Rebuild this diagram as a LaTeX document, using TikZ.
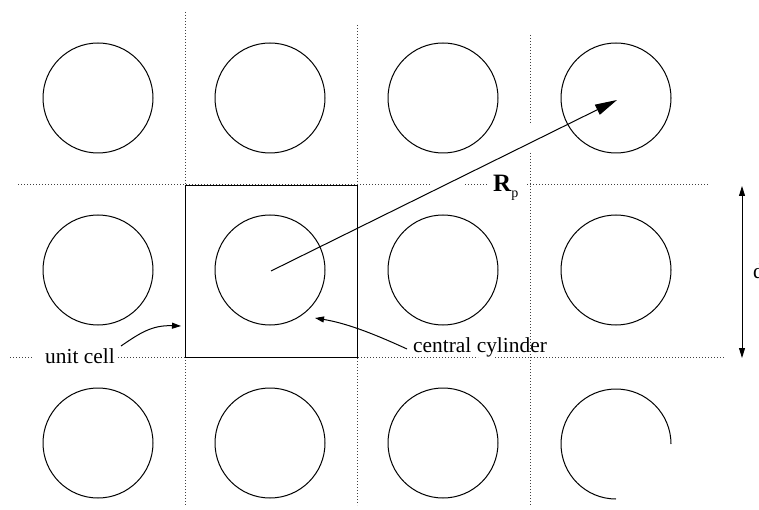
\documentclass[tikz,border=0pt]{standalone}
\usepackage{fontspec}
\setmainfont{Liberation Serif}
\usetikzlibrary{arrows.meta}
\begin{document}
\begin{tikzpicture}[x=1pt,y=-1pt,
  cyl/.style={circle,draw,line width=1pt,minimum size=110pt,inner sep=0pt},
  grid/.style={line width=1pt,black!75,dash pattern=on 1pt off 2pt},
  lbl/.style={font=\fontsize{21.4}{24}\selectfont,inner sep=0pt},
  pointer/.style={line width=1pt,-{Triangle[length=9pt,width=6pt]}}]
\useasboundingbox (0,0) rectangle (759,510);
% dotted lattice lines
\draw[grid] (185,12) -- (185,505);
\draw[grid] (357,25) -- (357,505);
\draw[grid] (530,35) -- (530,123);
\draw[grid] (530,153) -- (530,505);
\draw[grid] (18,185) -- (430,185);
\draw[grid] (465,185) -- (488,185);
\draw[grid] (527,185) -- (708,185);
\draw[grid] (10,357.5) -- (33,357.5);
\draw[grid] (118,357.5) -- (478,357.5);
\draw[grid] (495,357.5) -- (725,357.5);
% cylinders
\node[cyl] (c11) at (98,98) {};
\node[cyl] (c12) at (270,98) {};
\node[cyl] (c13) at (443,98) {};
\node[cyl] (c14) at (616,98) {};
\node[cyl] (c21) at (98,270) {};
\node[cyl] (c22) at (270,270) {};
\node[cyl] (c23) at (443,270) {};
\node[cyl] (c24) at (616,270) {};
\node[cyl] (c31) at (98,443) {};
\node[cyl] (c32) at (270,443) {};
\node[cyl] (c33) at (443,443) {};
\draw[line width=1pt] (671,444) arc[start angle=0,end angle=270,radius=55pt];
% unit cell
\node[draw,line width=0.9pt,minimum size=172pt,inner sep=0pt] (cell) at (271,271) {};
% labels
\node[lbl,anchor=base west] (ucl) at (45,363) {unit cell};
\node[lbl,anchor=base west] (ccl) at (413,352) {central cylinder};
\node[inner sep=0pt,anchor=base west] (rp) at (493,192)
  {\fontsize{25}{28}\selectfont\textbf{R}\fontsize{14}{16}\selectfont\raisebox{-6pt}{p}};
\node[lbl,anchor=base west] (dl) at (753,278) {d};
% coordinates
\coordinate (ctr) at (271,271);
\coordinate (tip) at (617,100);
\coordinate (ucs) at (121,346);
\coordinate (uce) at (181,326);
\coordinate (ccs) at (407,349);
\coordinate (cce) at (315,318);
\coordinate (dtop) at (742,186);
\coordinate (dbot) at (742,358);
% arrows
\draw[line width=1pt,-{Triangle[length=22pt,width=11pt]}] (ctr) -- (tip);
\draw[pointer] (ucs) .. controls (140,333) and (152,325) .. (uce);
\draw[pointer] (ccs) .. controls (370,332) and (345,323) .. (cce);
\draw[line width=0.9pt,{Triangle[length=10pt,width=6pt]}-{Triangle[length=10pt,width=6pt]}] (dtop) -- (dbot);
\end{tikzpicture}
\end{document}
